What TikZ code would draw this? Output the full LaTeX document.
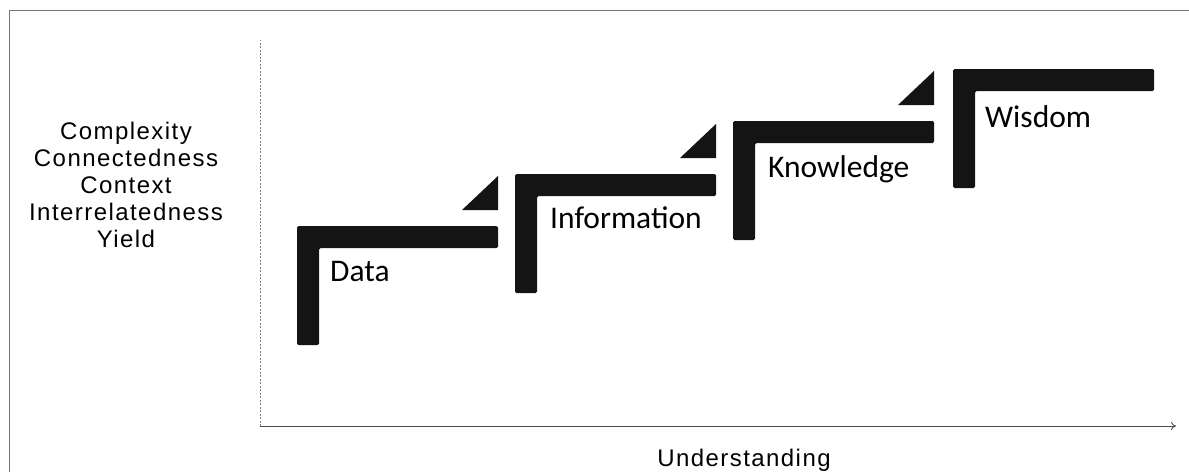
\documentclass[tikz,border=0pt]{standalone}
\usepackage{fontspec}
\setmainfont{Carlito}
\newfontfamily\axisfont[LetterSpace=6]{Liberation Sans}
\usetikzlibrary{arrows.meta}
\begin{document}
\begin{tikzpicture}[x=1pt,y=-1pt,
  stepbar/.style={fill=black!92, rounded corners=1.5pt},
  wedge/.style={fill=black!92},
  steplabel/.style={anchor=base west, inner sep=0pt, font=\fontsize{31.5}{36}\selectfont},
  axislabel/.style={inner sep=0pt, font=\axisfont\fontsize{24}{27.2}\selectfont, align=center},
  frameline/.style={draw=black!55, line width=0.5pt},
  yaxis/.style={draw=black!50, dash pattern=on 2pt off 1.5pt, line width=0.5pt},
  xaxis/.style={draw=black!70, line width=0.9pt, -{To[length=5pt,width=8pt]}}
  ]
\useasboundingbox (0,0) rectangle (1189,472);
\draw[frameline] (9,472) -- (9,10) -- (1189,10);
\coordinate (O) at (260,426);
\coordinate (ytop) at (260,40);
\coordinate (xend) at (1176,426);
\draw[yaxis] (O) -- (ytop);
\draw[xaxis] (O) -- (xend);
\foreach \x/\y in {297/226, 515/174, 733/121, 953/69} {
  \fill[stepbar] (\x,\y) -- ++(201,0) -- ++(0,22) -- ++(-179,0) -- ++(0,97) -- ++(-22,0) -- cycle;
}
\foreach \x/\y in {297/226, 515/174, 733/121} {
  \fill[wedge] (\x+201,\y-50) -- (\x+201,\y-16) -- (\x+165,\y-16) -- cycle;
}
\node[steplabel] (data) at (330,281) {Data};
\node[steplabel] (info) at (550,228) {Information};
\node[steplabel] (know) at (768,177) {Knowledge};
\node[steplabel] (wisd) at (985,127) {Wisdom};
\node[axislabel] (ylab) at (126,185) {Complexity\\Connectedness\\Context\\Interrelatedness\\Yield};
\node[axislabel, anchor=base] (xlab) at (744,466) {Understanding};
\end{tikzpicture}
\end{document}
